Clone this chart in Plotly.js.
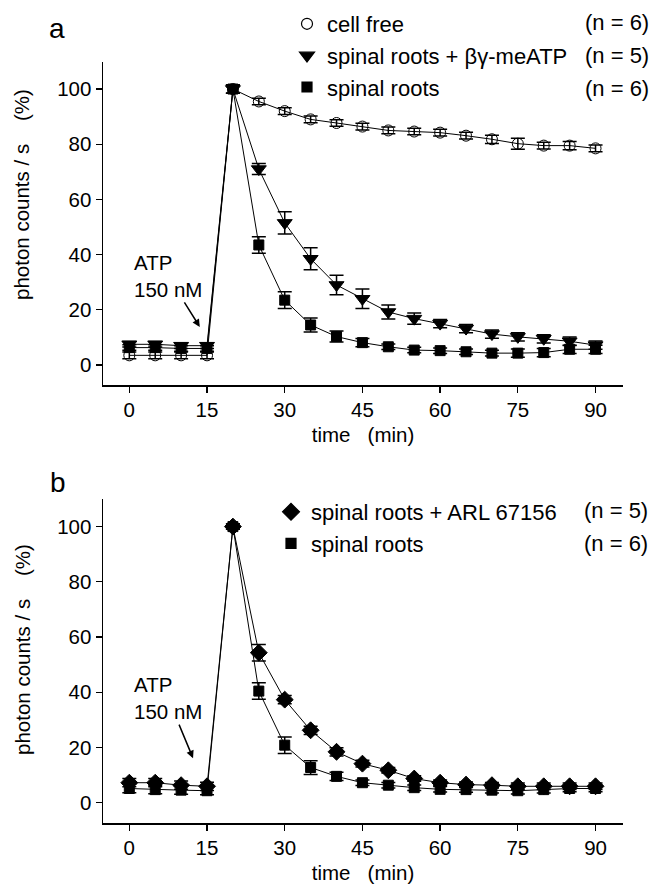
<!DOCTYPE html>
<html>
<head>
<meta charset="utf-8">
<script src="https://cdn.plot.ly/plotly-3.0.1.min.js"></script>
<style>html,body{margin:0;padding:0;background:#fff;}#chart{width:662px;height:885px;}</style>
</head>
<body>
<div id="chart"></div>
<script>
// ---- data ----
var time = [0,5,10,15,20,25,30,35,40,45,50,55,60,65,70,75,80,85,90];

// panel a
var cellFree    = [3.5,3.5,3.5,3.5,100,95.5,92,89,87.7,86.4,85,84.6,84.2,83.1,81.8,80.2,79.5,79.5,78.5];
var cellFreeErr = [1.2,1.2,1.2,1.2,1.5,1.2,1.2,1.2,1.2,1.2,1.2,1.2,1.2,1.2,1.5,2,1.2,1.5,1.2];
var betaGamma    = [7.5,7.5,7,7,100,71,51.5,38.5,29,24,19.2,16.8,15,13.2,11.2,10.2,9.5,8.6,7.2];
var betaGammaErr = [1,1,1,1,1.5,2,4,4,3.5,3.5,2.5,2,1.5,1.5,1.5,1.5,1.5,1.5,1.5];
var spinalA    = [6.3,6.3,6,6,100,43.5,23.5,14.5,10.3,8.1,6.6,5.4,5.2,4.8,4.3,4.3,4.5,5.7,5.7];
var spinalAErr = [1,1,1,1,1.5,3,3,2.5,2,1.5,1,1,1,1,1,1.5,1.5,1.5,1.5];

// panel b
var arl    = [7.2,7.2,6.3,5.9,100,54.3,37.3,26.2,18.4,14.1,11.7,8.7,7.2,6.5,6.3,5.9,5.9,5.9,5.9];
var arlErr = [1.5,1.5,1.5,1.5,1,3,1.5,1.5,1.5,1.2,1,1,1,1,1,1.2,1.2,1.2,1.2];
var spinalB    = [5.1,4.7,4.5,4.3,100,40.4,20.8,12.7,9.5,7.2,6.3,5.4,4.8,4.7,4.5,4.3,4.7,5.1,5.1];
var spinalBErr = [1.5,1.5,1.5,1.5,1,3,3,2.5,1.5,1,1,1,1,1,1,1.2,1.2,1.2,1.2];

var legendA = ['cell free', 'spinal roots + \u03b2\u03b3-meATP', 'spinal roots'];
var nA = ['(n = 6)', '(n = 5)', '(n = 6)'];
var legendB = ['spinal roots + ARL 67156', 'spinal roots'];
var nB = ['(n = 5)', '(n = 6)'];

var xTicks = [0,15,30,45,60,75,90];
var yTicks = [0,20,40,60,80,100];

// ---- helpers ----
var FONT = 'Liberation Sans, Arial, Helvetica, sans-serif';
function series(y, err, sym, size, xa, ya) {
  return {
    x: time, y: y, xaxis: xa, yaxis: ya, type: 'scatter', mode: 'lines+markers',
    showlegend: false, cliponaxis: false,
    line: {color: '#000', width: 1},
    marker: {symbol: sym, size: size, color: '#000', line: {color: '#000', width: 1}},
    error_y: {type: 'data', array: err, visible: true, color: '#000', thickness: 1.5, width: 7}
  };
}
function legendItem(name, sym, size, legend) {
  return {
    x: [null], y: [null], xaxis: 'x', yaxis: 'y', type: 'scatter', mode: 'markers',
    name: name, legend: legend, showlegend: true, legendgroup: name + legend,
    marker: {symbol: sym, size: size, color: '#000', line: {color: '#000', width: 1.2}}
  };
}

var traces = [
  series(cellFree, cellFreeErr, 'circle-open', 11, 'x', 'y'),
  series(betaGamma, betaGammaErr, 'triangle-down', 13, 'x', 'y'),
  series(spinalA, spinalAErr, 'square', 10, 'x', 'y'),
  series(arl, arlErr, 'diamond', 13, 'x2', 'y2'),
  series(spinalB, spinalBErr, 'square', 10, 'x2', 'y2'),
  legendItem(legendA[0], 'circle-open', 11, 'legend'),
  legendItem(legendA[1], 'triangle-down', 13, 'legend'),
  legendItem(legendA[2], 'square', 10, 'legend'),
  legendItem(legendB[0], 'diamond', 13, 'legend2'),
  legendItem(legendB[1], 'square', 10, 'legend2')
];

function px(x){ return x/662; }
function py(y){ return 1 - y/885; }

var xdom = [px(103), px(623)];
function xaxis(anchor) {
  return {
    domain: xdom, anchor: anchor, range: [-5.08, 95.3],
    tickmode: 'array', tickvals: xTicks, ticktext: xTicks.map(String),
    ticks: 'outside', ticklen: 6, tickwidth: 1.3, tickcolor: '#000',
    showline: true, linecolor: '#000', linewidth: 1.5,
    showgrid: false, zeroline: false,
    tickfont: {family: FONT, size: 20.5, color: '#000'},
    title: {text: 'time\u00a0\u00a0\u00a0(min)', font: {family: FONT, size: 20.5, color: '#000'}, standoff: 7}
  };
}
function yaxis(anchor, dom, range) {
  return {
    domain: dom, anchor: anchor, range: range,
    tickmode: 'array', tickvals: yTicks, ticktext: yTicks.map(String),
    ticks: 'outside', ticklen: 6, tickwidth: 1.3, tickcolor: '#000',
    showline: true, linecolor: '#000', linewidth: 1.5,
    showgrid: false, zeroline: false,
    tickfont: {family: FONT, size: 20.5, color: '#000'}
  };
}

var annFont = {family: FONT, size: 20.5, color: '#000'};
var legFont = {family: FONT, size: 22, color: '#000'};
function paperText(x, y, text, font, extra) {
  var a = {xref:'paper', yref:'paper', x: px(x), y: py(y), text: text, showarrow: false,
           xanchor: 'center', yanchor: 'middle', font: font};
  if (extra) for (var k in extra) a[k] = extra[k];
  return a;
}
var annotations = [
  paperText(57, 28, 'a', {family:FONT, size:28, color:'#000'}),
  paperText(58, 482, 'b', {family:FONT, size:28, color:'#000'}),
  paperText(22, 195, 'photon counts / s\u00a0\u00a0\u00a0\u00a0(%)', annFont, {textangle: -90}),
  paperText(22, 650, 'photon counts / s\u00a0\u00a0\u00a0\u00a0(%)', annFont, {textangle: -90}),
  {xref:'x', yref:'y', x: 13.6, y: 13.8, ax: -32, ay: -51, text:'ATP<br>150 nM', align:'left',
   showarrow:true, arrowhead:2, arrowsize:1, arrowwidth:1.5, arrowcolor:'#000', font: annFont},
  {xref:'x2', yref:'y2', x: 12.3, y: 16.1, ax: -25, ay: -60, text:'ATP<br>150 nM', align:'left',
   showarrow:true, arrowhead:2, arrowsize:1, arrowwidth:1.5, arrowcolor:'#000', font: annFont}
];
var rowsA = [23, 55.5, 88];
for (var i = 0; i < nA.length; i++) {
  annotations.push(paperText(583, rowsA[i], nA[i], legFont, {xanchor: 'left'}));
}
var rowsB = [511, 543.5];
for (var j = 0; j < nB.length; j++) {
  annotations.push(paperText(582, rowsB[j], nB[j], legFont, {xanchor: 'left'}));
}

var layout = {
  width: 662, height: 885,
  margin: {l:0, r:0, t:0, b:0},
  paper_bgcolor: '#fff', plot_bgcolor: '#fff',
  font: {family: FONT, color: '#000'},
  xaxis: xaxis('y'),
  yaxis: yaxis('x', [py(385), py(62)], [-7.25, 109.8]),
  xaxis2: xaxis('y2'),
  yaxis2: yaxis('x2', [py(823), py(499)], [-7.4, 110]),
  legend: {x: px(287), y: py(3), xanchor:'left', yanchor:'top', bgcolor:'rgba(0,0,0,0)',
           font: legFont, tracegroupgap: 0, traceorder:'grouped'},
  legend2: {x: px(271), y: py(491), xanchor:'left', yanchor:'top', bgcolor:'rgba(0,0,0,0)',
           font: legFont, tracegroupgap: 0, traceorder:'grouped'},
  annotations: annotations
};

Plotly.newPlot('chart', traces, layout, {displayModeBar: false, staticPlot: true});
</script>
</body>
</html>
